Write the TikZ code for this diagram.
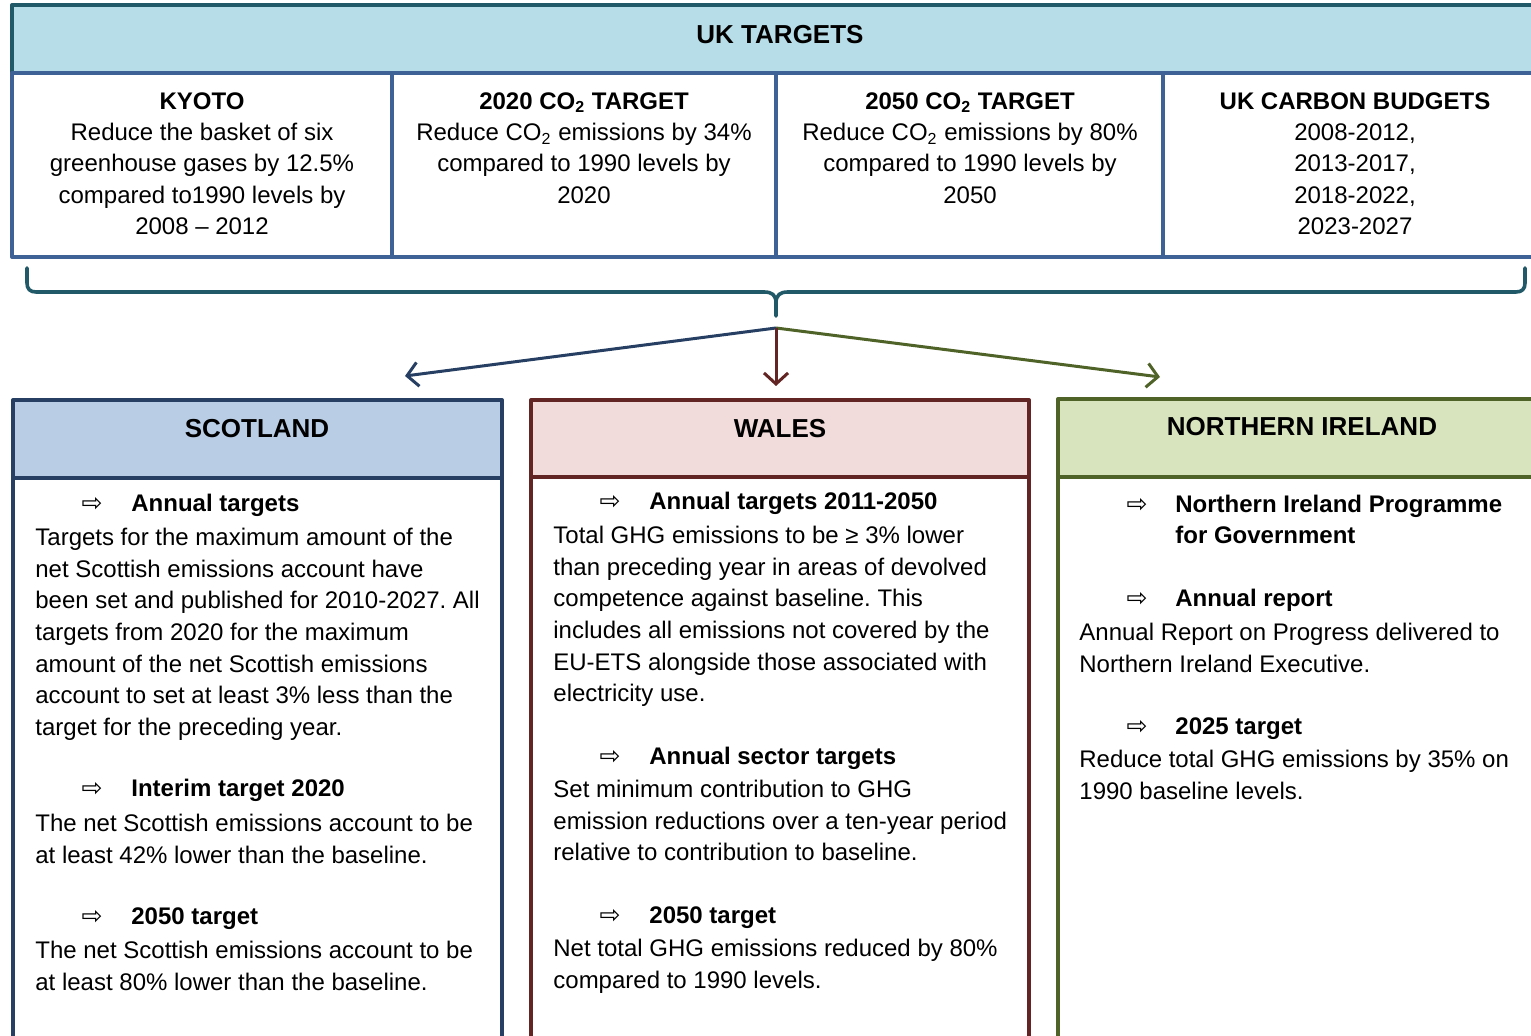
\documentclass[tikz,border=0pt]{standalone}
\usepackage{fontspec}
\setmainfont{Liberation Sans}
\newfontfamily\arrowfont{DejaVu Sans}
\usetikzlibrary{arrows.meta}
\frenchspacing
\definecolor{hdrfill}{HTML}{B7DDE8}
\definecolor{hdrline}{HTML}{215968}
\definecolor{rowline}{HTML}{3E6295}
\definecolor{scotfill}{HTML}{B9CDE5}
\definecolor{scotline}{HTML}{263F63}
\definecolor{walesfill}{HTML}{F2DCDB}
\definecolor{walesline}{HTML}{632523}
\definecolor{nifill}{HTML}{D7E4BD}
\definecolor{niline}{HTML}{4F6228}
\tikzset{
  frame/.style={line width=2pt, line join=round},
  body/.style={font=\fontsize{12}{15.85}\selectfont, align=left, inner sep=0pt, anchor=north west},
  topbody/.style={font=\fontsize{12}{15.65}\selectfont, align=center, inner sep=0pt, anchor=north},
  head/.style={font=\bfseries\fontsize{12}{15.5}\selectfont, align=left, inner sep=0pt, anchor=base west},
  title/.style={font=\bfseries\fontsize{13}{16}\selectfont, inner sep=0pt, anchor=base},
  bul/.style={font=\arrowfont\fontsize{12.5}{14}\selectfont, inner sep=0pt, anchor=base},
  link/.style={line width=1.5pt, -{Straight Barb[length=5.5pt,width=12pt,line width=1.5pt]}},
}
\begin{document}
\begin{tikzpicture}[x=0.5pt,y=-0.5pt]
\useasboundingbox (0,0) rectangle (1531,1036);
\clip (0,0) rectangle (1531,1036);

% UK targets header and the row of four target boxes
\draw[frame, draw=hdrline, fill=hdrfill] (12,5) rectangle (1600,73);
\draw[frame, draw=rowline, fill=white] (12,73) rectangle (1600,257);
\draw[frame, draw=rowline] (392,73) -- (392,257) (776,73) -- (776,257) (1163,73) -- (1163,257);

\node[title] (uk) at (780,44) {UK TARGETS};
\node[topbody] (kyoto) at (202,87) {\strut\textbf{KYOTO}\\Reduce the basket of six\\greenhouse gases by 12.5\%\\compared to1990 levels by\\2008 -- 2012};
\node[topbody] (t2020) at (584,87) {\strut\textbf{2020 CO\textsubscript{2} TARGET}\\Reduce CO\textsubscript{2} emissions by 34\%\\compared to 1990 levels by\\2020};
\node[topbody] (t2050) at (970,87) {\strut\textbf{2050 CO\textsubscript{2} TARGET}\\Reduce CO\textsubscript{2} emissions by 80\%\\compared to 1990 levels by\\2050};
\node[topbody] (budgets) at (1355,87) {\strut\textbf{UK CARBON BUDGETS}\\2008-2012,\\2013-2017,\\2018-2022,\\2023-2027};

% brace gathering the UK targets
\draw[line width=1.8pt, hdrline, line cap=round, line join=round]
  (27,268) -- (27,283) .. controls (27,289) and (30,292) .. (36,292) -- (764,292)
  .. controls (772,292) and (776,295) .. (776,303) -- (776,316);
\draw[line width=1.8pt, hdrline, line cap=round, line join=round]
  (1525,268) -- (1525,283) .. controls (1525,289) and (1522,292) .. (1516,292) -- (788,292)
  .. controls (780,292) and (776,295) .. (776,303);

% arrows to the devolved administrations
\coordinate (fork) at (776,328);
\coordinate (tipS) at (405,376);
\coordinate (tipW) at (776,386);
\coordinate (tipN) at (1160,377);
\draw[link, scotline] (fork) -- (tipS);
\draw[link, niline] (fork) -- (tipN);
\draw[link, walesline] (fork) -- (tipW);

% Scotland
\draw[frame, draw=scotline, fill=white] (13,478) rectangle (502,1100);
\draw[frame, draw=scotline, fill=scotfill] (13,400) rectangle (502,478);
\node[title] (scot) at (257,438) {SCOTLAND};
\node[bul] (sb1) at (92,512) {⇨};
\node[head] (sh1) at (131,512) {Annual targets};
\node[body] (st1) at (35,522.8) {\strut Targets for the maximum amount of the\\net Scottish emissions account have\\been set and published for 2010-2027. All\\targets from 2020 for the maximum\\amount of the net Scottish emissions\\account to set at least 3\% less than the\\target for the preceding year.};
\node[bul] (sb2) at (92,797) {⇨};
\node[head] (sh2) at (131,797) {Interim target 2020};
\node[body] (st2) at (35,808.8) {\strut The net Scottish emissions account to be\\at least 42\% lower than the baseline.};
\node[bul] (sb3) at (92,924) {⇨};
\node[head] (sh3) at (131,924) {2050 target};
\node[body] (st3) at (35,935.8) {\strut The net Scottish emissions account to be\\at least 80\% lower than the baseline.};

% Wales
\draw[frame, draw=walesline, fill=white] (531,477) rectangle (1029,1100);
\draw[frame, draw=walesline, fill=walesfill] (531,400) rectangle (1029,477);
\node[title] (wales) at (780,438) {WALES};
\node[bul] (wb1) at (610,510) {⇨};
\node[head] (wh1) at (649,510) {Annual targets 2011-2050};
\node[body] (wt1) at (553,520.8) {\strut Total GHG emissions to be ≥ 3\% lower\\than preceding year in areas of devolved\\competence against baseline. This\\includes all emissions not covered by the\\EU-ETS alongside those associated with\\electricity use.};
\node[bul] (wb2) at (610,764) {⇨};
\node[head] (wh2) at (649,764) {Annual sector targets};
\node[body] (wt2) at (553,774.8) {\strut Set minimum contribution to GHG\\emission reductions over a ten-year period\\relative to contribution to baseline.};
\node[bul] (wb3) at (610,923) {⇨};
\node[head] (wh3) at (649,923) {2050 target};
\node[body] (wt3) at (553,933.8) {\strut Net total GHG emissions reduced by 80\%\\compared to 1990 levels.};

% Northern Ireland
\draw[frame, draw=niline, fill=white] (1058,477) rectangle (1600,1100);
\draw[frame, draw=niline, fill=nifill] (1058,399) rectangle (1600,477);
\node[title] (ni) at (1302,436) {NORTHERN IRELAND};
\node[bul] (nb1) at (1137,513) {⇨};
\node[head, anchor=north west] (nh1) at (1175,490.8) {\strut Northern Ireland Programme\\for Government};
\node[bul] (nb2) at (1137,607) {⇨};
\node[head] (nh2) at (1175,607) {Annual report};
\node[body] (nt2) at (1079,617.8) {\strut Annual Report on Progress delivered to\\Northern Ireland Executive.};
\node[bul] (nb3) at (1137,734) {⇨};
\node[head] (nh3) at (1175,734) {2025 target};
\node[body] (nt3) at (1079,744.8) {\strut Reduce total GHG emissions by 35\% on\\1990 baseline levels.};
\end{tikzpicture}
\end{document}
